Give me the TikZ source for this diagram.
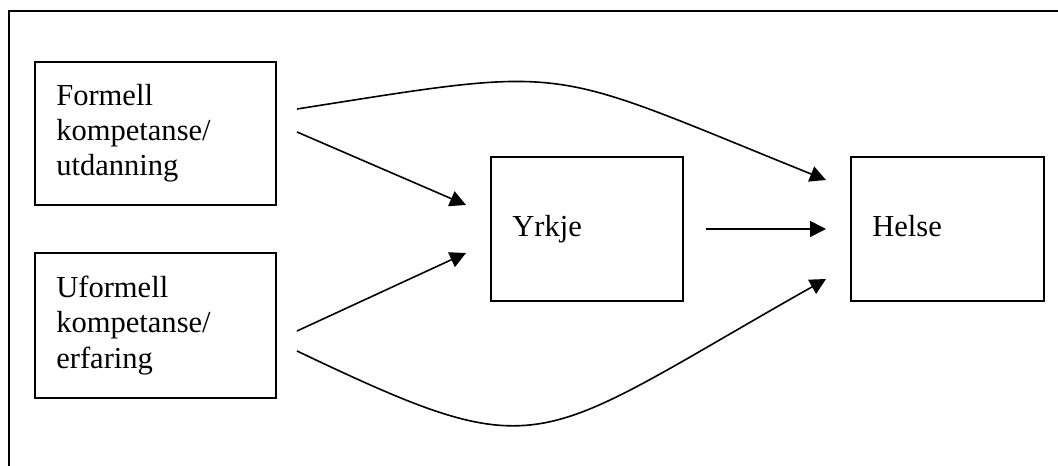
\documentclass[tikz,border=0pt]{standalone}
\usepackage{fontspec}
\setmainfont{Liberation Serif}
\usetikzlibrary{arrows.meta}
\begin{document}
\begin{tikzpicture}[x=0.75pt,y=-0.75pt,
  box/.style={draw,line width=1.5pt,anchor=north west,align=left,inner xsep=16pt,inner ysep=0pt,
    font=\fontsize{22.9pt}{26.3pt}\selectfont},
  onel/.style={text height=15.75pt,text depth=5pt},
  conn/.style={line width=1.2pt,-{Triangle[length=12pt,width=12pt]}}]
\useasboundingbox (0,0) rectangle (1058,466);
\draw[line width=2.2pt] (9,470) -- (9,11) -- (1062,11);
\node[box,minimum width=180.75pt,minimum height=107.25pt,text width=148.75pt] (f) at (34,61) {Formell\\kompetanse/\\utdanning};
\node[box,minimum width=180.75pt,minimum height=108.75pt,text width=148.75pt] (u) at (34,252) {Uformell\\kompetanse/\\erfaring};
\node[box,onel,minimum width=144pt,minimum height=108pt,text width=112pt] (y) at (490,156) {Yrkje};
\node[box,onel,minimum width=144.75pt,minimum height=108pt,text width=112.75pt] (h) at (850,156) {Helse};
\coordinate (a1s) at (297,132); \coordinate (a1e) at (466,205);
\coordinate (a2s) at (297,331); \coordinate (a2e) at (466,253);
\coordinate (a3s) at (706,229); \coordinate (a3e) at (826,229);
\coordinate (c1s) at (297,109); \coordinate (c1e) at (826,180);
\coordinate (c2s) at (297,351); \coordinate (c2e) at (826,279);
\draw[conn] (a1s) -- (a1e);
\draw[conn] (a2s) -- (a2e);
\draw[conn] (a3s) -- (a3e);
\draw[conn] (c1s) .. controls (577,65) and (541,65) .. (c1e);
\draw[conn] (c2s) .. controls (547,470) and (530,446) .. (c2e);
\end{tikzpicture}
\end{document}
